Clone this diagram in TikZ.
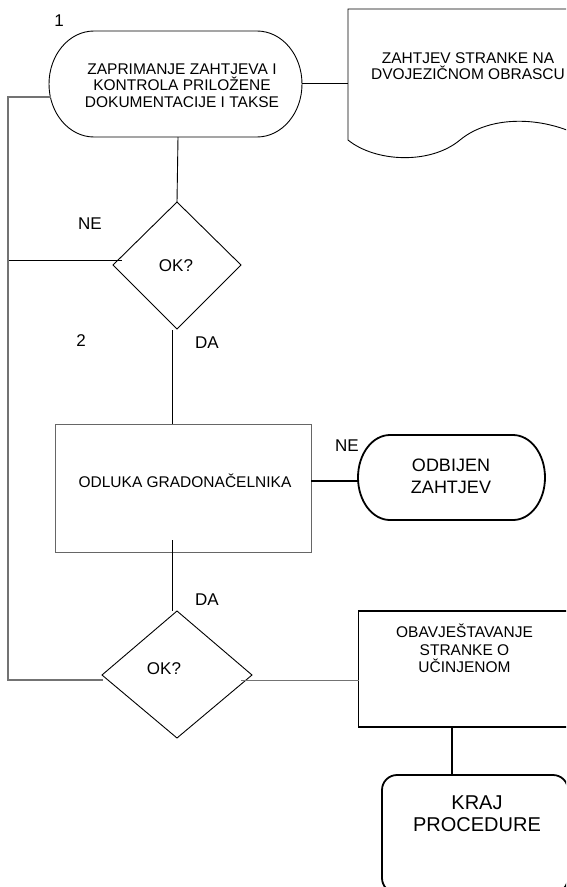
\documentclass[tikz,border=0pt]{standalone}
\usepackage{fontspec}
\setmainfont{Liberation Sans}
\begin{document}
\begin{tikzpicture}[x=1pt,y=1pt,
  thinline/.style={line width=0.9pt, black},
  greyline/.style={line width=1.2pt, black!55},
  thickline/.style={line width=1.8pt, black},
  smalltxt/.style={font=\fontsize{15.5}{16.5}\selectfont, align=center, inner sep=0pt},
  lbl/.style={font=\fontsize{17}{17}\selectfont, inner sep=0pt}]
\useasboundingbox (0,0) rectangle (566,-887);
\clip (0,0) rectangle (566,-887);

% --- terminator 1
\draw[thinline] (94,-31) -- (257,-31) arc[start angle=90,end angle=-90,x radius=45,y radius=53]
  -- (94,-137) arc[start angle=270,end angle=90,x radius=45,y radius=53] -- cycle;
\node[smalltxt] (t1) at (182,-85.5) {ZAPRIMANJE ZAHTJEVA I\\KONTROLA PRILOŽENE\\DOKUMENTACIJE I TAKSE};
\node[lbl] (n1) at (59,-21) {1};
\coordinate (t1E) at (302,-83);
\coordinate (t1W) at (50.5,-97);
\coordinate (t1S) at (178,-137);

% --- document
\draw[thinline] (348,-140) -- (348,-9) -- (588,-9) -- (588,-140)
  .. controls (545,-115) and (490,-115) .. (460,-140)
  .. controls (430,-165) and (375,-162) .. (348,-140) -- cycle;
\node[smalltxt] (doc) at (468,-66) {ZAHTJEV STRANKE NA\\DVOJEZIČNOM OBRASCU};
\coordinate (docW) at (348,-83);
\draw[thinline] (t1E) -- (docW);

% --- decision 1
\draw[thinline] (177,-202) -- (241,-265) -- (177,-329) -- (113,-265) -- cycle;
\node[lbl] (d1) at (176,-266) {OK?};
\coordinate (d1N) at (177,-202);
\coordinate (d1W) at (122,-260);
\coordinate (d1S) at (172,-330);
\draw[thinline] (t1S) -- (d1N);
\node[lbl] (ne1) at (90,-224) {NE};
\node[lbl] (n2) at (81,-341) {2};
\node[lbl] (da1) at (207,-343) {DA};

% --- left loop
\coordinate (L1) at (8,-97);
\coordinate (L2) at (8,-260);
\coordinate (L3) at (8,-680);
\draw[thinline] (L2) -- (d1W);

% --- rectangle 1
\node[draw=black!60, line width=0.9pt, minimum width=256, minimum height=128, inner sep=0pt] (r1) at (183,-488) {};
\node[smalltxt] (r1t) at (185,-481) {ODLUKA GRADONAČELNIKA};
\draw[thinline] (d1S) -- (d1S |- r1.north);
\coordinate (r1E) at (311,-481);
\coordinate (r1S) at (172,-540);

% --- terminator 2
\draw[thickline] (390,-435) -- (513,-435) arc[start angle=90,end angle=-90,x radius=32,y radius=42.5]
  -- (390,-520) arc[start angle=270,end angle=90,x radius=32,y radius=42.5] -- cycle;
\node[font=\fontsize{18}{22}\selectfont, align=center, inner sep=0pt] (t2) at (451,-476) {ODBIJEN\\ZAHTJEV};
\coordinate (t2W) at (358,-481);
\draw[thickline] (r1E) -- (t2W);
\node[lbl] (ne2) at (347,-446) {NE};

% --- decision 2
\draw[thinline] (177,-611) -- (252,-675) -- (177,-738) -- (102,-675) -- cycle;
\node[lbl] (d2) at (164,-669) {OK?};
\coordinate (d2N) at (172,-611);
\coordinate (d2W) at (103,-680);
\coordinate (d2E) at (241,-680);
\draw[thinline] (r1S) -- (d2N);
\node[lbl] (da2) at (207,-600) {DA};
\draw[greyline] (t1W) -- (L1) -- (L3) -- (d2W);

% --- rectangle 2
\draw[thickline] (358.5,-611) rectangle (570,-727);
\node[font=\fontsize{15.5}{17.5}\selectfont, align=center, inner sep=0pt] (r2) at (464.5,-648.5) {OBAVJEŠTAVANJE\\STRANKE O\\UČINJENOM};
\coordinate (r2W) at (358.5,-680);
\coordinate (r2S) at (452,-727);
\draw[greyline, line width=1pt] (d2E) -- (r2W);

% --- terminator 3
\draw[thickline, rounded corners=15] (382,-775) rectangle (568,-893);
\node[font=\fontsize{20}{22}\selectfont, align=center, inner sep=0pt] (t3) at (477,-814) {KRAJ\\PROCEDURE};
\coordinate (t3N) at (452,-775);
\draw[thickline] (r2S) -- (t3N);
\end{tikzpicture}
\end{document}
